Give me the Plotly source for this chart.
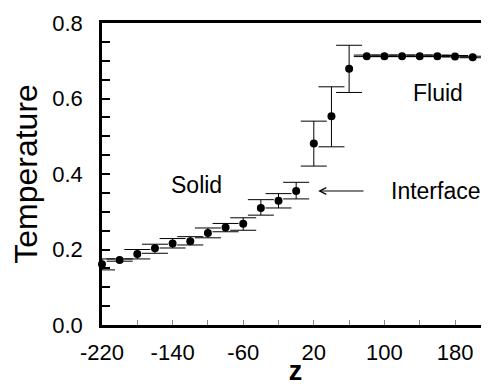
import plotly.graph_objects as go

# Data
z = [-220, -200, -180, -160, -140, -120, -100, -80, -60, -40, -20, 0,
     20, 40, 60,
     80, 100, 120, 140, 160, 180, 200]
temperature = [0.161, 0.172, 0.188, 0.203, 0.216, 0.222, 0.244, 0.258, 0.268, 0.310, 0.329, 0.355,
               0.481, 0.553, 0.679,
               0.712, 0.712, 0.712, 0.712, 0.712, 0.711, 0.709]
err_plus = [0.014, 0.003, 0.012, 0.011, 0.013, 0.012, 0.013, 0.011, 0.016, 0.022, 0.019, 0.023,
            0.059, 0.078, 0.062,
            0.003, 0.003, 0.003, 0.003, 0.003, 0.003, 0.003]
err_minus = [0.015, 0.003, 0.013, 0.013, 0.012, 0.010, 0.013, 0.011, 0.017, 0.019, 0.019, 0.021,
             0.060, 0.081, 0.063,
             0.001, 0.001, 0.001, 0.001, 0.001, 0.001, 0.001]

x_ticks = [-220, -140, -60, 20, 100, 180]
y_ticks = [0.0, 0.2, 0.4, 0.6, 0.8]

FONT = "Liberation Sans, Arial, Helvetica, sans-serif"

fig = go.Figure()
fig.add_trace(go.Scatter(
    x=z, y=temperature, mode="markers",
    marker=dict(color="black", size=8),
    error_y=dict(type="data", symmetric=False, array=err_plus, arrayminus=err_minus,
                 color="black", thickness=1, width=13),
    cliponaxis=False, showlegend=False,
))

fig.add_annotation(x=-113, y=0.370, text="Solid", showarrow=False,
                   font=dict(size=23, color="black", family=FONT))
fig.add_annotation(x=160.7, y=0.614, text="Fluid", showarrow=False,
                   font=dict(size=23, color="black", family=FONT))
fig.add_annotation(x=158.5, y=0.355, text="Interface", showarrow=False,
                   font=dict(size=23, color="black", family=FONT))
fig.add_annotation(x=25, y=0.355, ax=78, ay=0.355, axref="x", ayref="y",
                   text="", showarrow=True, arrowhead=5, arrowsize=1.3,
                   arrowwidth=1, arrowcolor="black")

# The page body adds an 8px offset; the figure is sized so that it ends at the window edges.
fig.update_layout(
    width=481, height=378,
    margin=dict(l=94, r=0, t=15, b=61, autoexpand=False),
    paper_bgcolor="white", plot_bgcolor="white",
    font=dict(family=FONT, color="black"),
    xaxis=dict(
        range=[-220, 218.5], tickmode="array", tickvals=x_ticks,
        ticktext=[str(v) for v in x_ticks],
        ticks="inside", ticklen=5, tickwidth=1, tickcolor="#888",
        minor=dict(tick0=-220, dtick=40, ticks="inside", ticklen=5, tickwidth=1, tickcolor="#888"),
        showline=True, linewidth=2.5, linecolor="black", mirror=True,
        showgrid=False, zeroline=False,
        tickfont=dict(size=22, family=FONT), ticklabelstandoff=6,
        title=dict(text="<b>z</b>", font=dict(size=27, family=FONT), standoff=8),
    ),
    yaxis=dict(
        range=[0, 0.8], tickmode="array", tickvals=y_ticks,
        ticktext=[f"{v:.1f}" for v in y_ticks],
        ticks="inside", ticklen=8, tickwidth=2, tickcolor="black",
        minor=dict(tick0=0, dtick=0.05, ticks="inside", ticklen=8, tickwidth=2, tickcolor="black"),
        showline=True, linewidth=2.5, linecolor="black", mirror=False,
        showgrid=False, zeroline=False,
        tickfont=dict(size=22, family=FONT), ticklabelstandoff=12,
        title=dict(text="Temperature", font=dict(size=32, family=FONT), standoff=10),
    ),
)

fig.write_html("out.html")
